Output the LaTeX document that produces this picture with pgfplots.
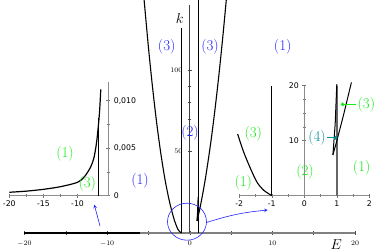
\documentclass[border=0pt]{standalone}
\usepackage{fontspec}
\usepackage{pgfplots}
\pgfplotsset{compat=1.18}
\newfontfamily\insetfont{DejaVu Sans}
\definecolor{lblue}{RGB}{35,35,255}
\definecolor{lgreen}{RGB}{25,235,25}
\definecolor{lteal}{RGB}{0,140,145}
\newcommand\lab{\fontsize{15}{16}\selectfont}
\newcommand\tk{\fontsize{7.5}{8}\selectfont}
\newcommand\itk{\insetfont\fontsize{7.8}{9}\selectfont}
\begin{document}
\begin{tikzpicture}[x=1bp,y=1bp]
% ---------------- main axis ----------------
\begin{axis}[
  at={(24.5bp,19bp)}, anchor=south west,
  scale only axis, width=330.5bp, height=228bp,
  xmin=-20, xmax=20, ymin=0, ymax=140,
  axis lines=middle, clip=false,
  axis line style={-},
  x axis line style={-, draw=black!50, line width=1.4bp},
  y axis line style={-, draw=black!75, line width=0.7bp},
  xtick={-20,-10,0,10,20}, minor x tick num=1,
  ytick={50,100}, minor y tick num=4,
  hide obscured x ticks=false, hide obscured y ticks=false,
  tick align=center,
  major tick length=4bp, minor tick length=3bp,
  every tick/.style={black!70, line width=0.5bp},
  xticklabel style={font=\tk, yshift=-2bp},
  yticklabel style={font=\tk, xshift=-2bp},
]
\addplot[black, line width=1.4bp] coordinates {(-20,0) (-6,0)};
\addplot[black, line width=1.1bp, smooth] coordinates {(-1,0)(-1.25,1.0)(-1.46,2.5)(-1.66,5)(-1.87,8)(-2.05,11.2)(-2.5,20.3)(-3,33)(-3.5,48.8)(-4,67.5)(-4.5,89.3)(-5,114)(-5.5,141.8)(-5.6,147.7)};
\addplot[black, line width=1.1bp, smooth] coordinates {(0.88,7.4)(1,9.95)(1.2,14.5)(1.43,20.3)(1.7,27.7)(2,36.8)(2.5,53.9)(3,73.6)(3.5,95.7)(4,120.4)(4.5,147.4)};
\addplot[black, line width=1.1bp] coordinates {(0.88,7.4)(0.95,13)(1.02,22)};
\addplot[black, line width=1.2bp] coordinates {(1.02,0)(1.02,146)};
\addplot[black, line width=1.1bp] coordinates {(-1,0)(-1,126)};
\end{axis}
% ---------------- left inset ----------------
\begin{axis}[
  at={(9.3bp,56.3bp)}, anchor=south west,
  scale only axis, width=99bp, height=114bp,
  xmin=-20, xmax=-5.5, ymin=0, ymax=0.012,
  axis x line=bottom, axis y line=right, clip=false,
  axis line style={-, draw=black!45, line width=0.8bp},
  scaled ticks=false,
  xtick={-20,-15,-10}, xticklabels={-20,-15,-10}, minor x tick num=1,
  ytick={0,0.005,0.01}, yticklabels={0,{0,005},{0,010}}, minor y tick num=1,
  tick align=center,
  major tick length=4bp, minor tick length=2.5bp,
  every tick/.style={black!55, line width=0.5bp},
  xticklabel style={font=\itk},
  yticklabel style={font=\itk},
]
\addplot[black, line width=1.2bp, smooth] coordinates {(-20,0.00036)(-17.5,0.00048)(-15,0.00067)(-12.5,0.00095)(-10,0.00141)(-9,0.0020)(-8.1,0.0030)(-7.6,0.0040)(-7.2,0.0057)(-6.9,0.0078)(-6.75,0.0092)(-6.6,0.0112)};
\addplot[black, line width=1.2bp] coordinates {(-6.95,0)(-6.95,0.0082)};
\end{axis}
% ---------------- right inset ----------------
\begin{axis}[
  at={(239.3bp,56.3bp)}, anchor=south west,
  scale only axis, width=130bp, height=110bp,
  xmin=-2, xmax=2, ymin=0, ymax=20,
  axis x line=bottom, axis y line=middle, clip=false,
  axis line style={-, draw=black!45, line width=0.8bp},
  xtick={-2,-1,0,1,2}, xticklabels={-2,-1,0,1,2}, minor x tick num=1,
  ytick={10,20}, yticklabels={10,20}, minor y tick num=3,
  hide obscured x ticks=false, hide obscured y ticks=false,
  tick align=center,
  major tick length=4bp, minor tick length=2.5bp,
  every tick/.style={black!55, line width=0.5bp},
  xticklabel style={font=\itk},
  yticklabel style={font=\itk},
]
\addplot[black, line width=1.1bp, smooth] coordinates {(-1,0)(-1.25,1.0)(-1.46,2.5)(-1.66,5)(-1.87,8)(-2.05,11.2)};
\addplot[black, line width=1.1bp] coordinates {(-1,0)(-1,20)};
\addplot[black!60, line width=1.5bp] coordinates {(1,0)(1,20)};
\addplot[black, line width=1bp] coordinates {(0.88,7.4)(1,9.95)(1.2,14.5)(1.45,20.6)};
\addplot[black, line width=1bp] coordinates {(0.88,7.4)(0.95,13)(1.0,20.3)};
\draw[lteal, line width=0.7bp] (axis cs:0.963,10.55) -- (axis cs:0.70,10.55);
\draw[lgreen, line width=0.7bp] (axis cs:1.18,16.6) -- (axis cs:1.60,16.6);
\addplot[only marks, mark=*, mark size=1.7bp, lteal] coordinates {(0.963,10.55)};
\addplot[only marks, mark=*, mark size=1.7bp, lgreen] coordinates {(1.18,16.6)};
\node[lteal, font=\lab] at (axis cs:0.39,10.55) {(4)};
\node[lgreen, font=\lab] at (axis cs:1.91,16.6) {(3)};
\end{axis}
% ---------------- labels ----------------
\node[font=\lab] at (179.7,233.7) {$k$};
\node[font=\lab] at (336.3,7.3) {$E$};
\node[lblue, font=\lab] at (166.7,205.3) {(3)};
\node[lblue, font=\lab] at (210,205.3) {(3)};
\node[lblue, font=\lab] at (282.7,205.3) {(1)};
\node[lblue, font=\lab] at (190,119.3) {(2)};
\node[lblue, font=\lab] at (140,71) {(1)};
\node[lgreen, font=\lab] at (65,98.7) {(1)};
\node[lgreen, font=\lab] at (87.3,68.7) {(3)};
\node[lgreen, font=\lab] at (253.3,118.7) {(3)};
\node[lgreen, font=\lab] at (243.3,69.7) {(1)};
\node[lgreen, font=\lab] at (305,80.3) {(2)};
\node[lgreen, font=\lab] at (361.7,84.3) {(1)};
% annotations
\draw[lblue, line width=0.6bp] (187,30.3) ellipse [x radius=19.5, y radius=18.5];
\draw[lblue, line width=0.6bp, -stealth] (206.5,29.5) to[bend left=6] (267.7,42);
\draw[lblue, line width=0.6bp, -stealth] (100,26) -- (94.3,47.3);
\pgfresetboundingbox
\path[use as bounding box] (0,0) rectangle (376,252);
\end{tikzpicture}
\end{document}
